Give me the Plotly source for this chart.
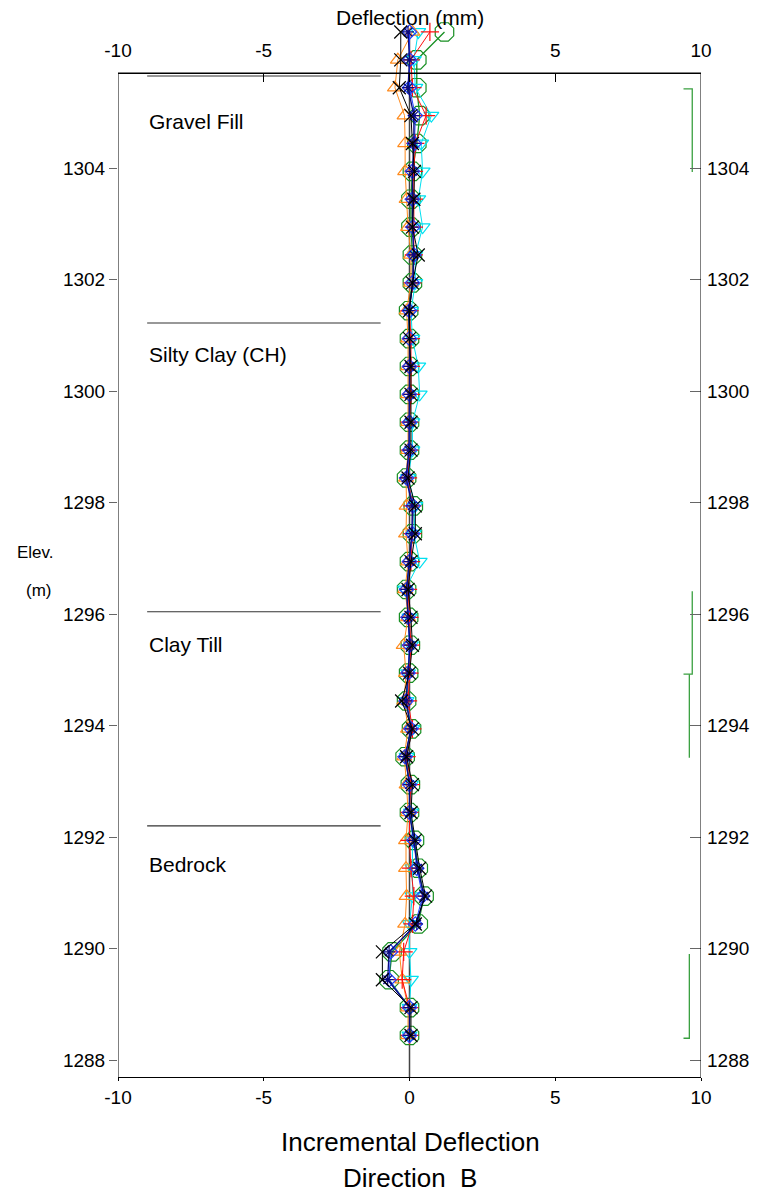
import plotly.graph_objects as go

# ---------------- data ----------------
elev = [1306.44, 1305.94, 1305.44, 1304.94, 1304.44, 1303.94, 1303.44, 1302.94, 1302.44,
        1301.94, 1301.44, 1300.94, 1300.44, 1299.94, 1299.44, 1298.94, 1298.44, 1297.94,
        1297.44, 1296.94, 1296.44, 1295.94, 1295.44, 1294.94, 1294.44, 1293.94, 1293.44,
        1292.94, 1292.44, 1291.94, 1291.44, 1290.94, 1290.44, 1289.94, 1289.44, 1288.94,
        1288.44]

green = [1.2, 0.25, 0.25, 0.35, 0.25, 0.1, 0.05, 0.05, 0.1, 0.1, -0.03, 0.0, 0.0, 0.0, 0.0, 0.0,
         -0.1, 0.13, 0.1, 0.0, -0.1, -0.03, 0.03, -0.03, -0.1, 0.07, -0.15, 0.03, 0.0, 0.17, 0.3,
         0.5, 0.3, -0.6, -0.7, 0.0, 0.0]
cyan = [0.3, 0.15, 0.2, 0.75, 0.4, 0.45, 0.3, 0.45, 0.2, 0.2, 0.05, 0.1, 0.3, 0.35, 0.1, 0.1,
        -0.05, 0.2, 0.15, 0.35, -0.15, 0.0, 0.05, -0.05, -0.1, 0.1, -0.1, 0.05, 0.05, 0.1, 0.1,
        0.1, 0.0, 0.0, 0.05, 0.0, 0.0]
orange = [0.1, -0.4, -0.5, -0.17, -0.15, -0.15, -0.1, -0.05, 0.05, 0.05, -0.1, -0.05, -0.05,
          -0.05, -0.05, -0.05, -0.12, -0.1, -0.12, -0.05, -0.15, -0.05, -0.2, -0.12, -0.18,
          -0.05, -0.18, -0.1, -0.05, -0.12, -0.12, -0.1, -0.15, -0.35, -0.25, -0.05, -0.05]
red = [0.7, 0.05, 0.1, 0.57, 0.2, 0.15, 0.15, 0.15, 0.15, 0.1, 0.0, 0.05, 0.05, 0.05, 0.0, 0.0,
       -0.05, 0.1, 0.1, 0.05, -0.05, 0.0, 0.05, 0.0, -0.05, 0.1, -0.1, 0.05, 0.0, 0.0, 0.05,
       0.15, 0.1, -0.2, -0.25, 0.0, 0.0]
blue = [0.0, 0.0, 0.0, 0.2, 0.17, 0.1, 0.1, 0.12, 0.15, 0.1, 0.0, 0.0, 0.0, 0.0, 0.0, 0.0,
        -0.1, 0.12, 0.1, 0.0, -0.1, -0.05, 0.0, -0.05, -0.12, 0.05, -0.15, 0.0, 0.0, 0.15, 0.25,
        0.45, 0.2, -0.65, -0.7, 0.0, 0.0]
navy = [-0.05, 0.0, -0.05, 0.15, 0.15, 0.1, 0.1, 0.1, 0.15, 0.12, -0.03, 0.0, 0.0, 0.0, 0.0,
        -0.02, -0.12, 0.1, 0.08, 0.0, -0.1, -0.05, 0.02, -0.05, -0.12, 0.05, -0.15, 0.0, 0.0,
        0.15, 0.28, 0.5, 0.25, -0.7, -0.75, 0.0, 0.0]
black = [-0.3, -0.3, -0.35, 0.05, 0.1, 0.17, 0.15, 0.1, 0.3, 0.1, 0.0, 0.0, 0.05, 0.05, 0.05,
         0.05, -0.05, 0.2, 0.2, 0.05, -0.05, 0.05, 0.1, 0.0, -0.27, 0.1, -0.1, 0.1, 0.05, 0.2,
         0.35, 0.55, 0.2, -0.93, -0.93, 0.05, 0.05]

x_ticks = [-10, -5, 0, 5, 10]
y_ticks = [1288, 1290, 1292, 1294, 1296, 1298, 1300, 1302, 1304]

layer_names = ["Gravel Fill", "Silty Clay (CH)", "Clay Till", "Bedrock"]
layer_tops = [1305.65, 1301.22, 1296.04, 1292.2]
layer_label_elev = [1304.84, 1300.65, 1295.46, 1291.5]

# zone brackets at right side: (x values, elevation values)
brackets = [
    ([9.4, 9.7, 9.7], [1305.42, 1305.42, 1303.93]),
    ([9.7, 9.7, 9.4], [1296.41, 1294.92, 1294.92]),
    ([9.6, 9.6], [1294.92, 1293.42]),
    ([9.6, 9.6, 9.4], [1289.9, 1288.39, 1288.39]),
]

# ---------------- figure ----------------
FONT = "Arial, Liberation Sans, sans-serif"
W, H = 779, 1196
ML, MR, MT, MB = 118, 78, 0, 119
plot_h = H - MT - MB
px_per_m = 55.75
y_bottom = 1288 - 17 / px_per_m
y_top = 1288 + 1060 / px_per_m
frame_top = 1288 + (1060 - 73) / px_per_m
top_axis_pos = (plot_h - 73) / plot_h

series = [
    ("green", green, "#178f22", "octagon-open", 20, 1.3),
    ("cyan", cyan, "#00e0f0", "triangle-down-open", 13, 1.0),
    ("orange", orange, "#ff8a1c", "triangle-up-open", 13, 1.0),
    ("red", red, "#ff1010", "cross-thin-open", 13, 1.0),
    ("blue", blue, "#2040ff", "diamond-open", 11, 1.0),
    ("navy", navy, "#0a0a80", "asterisk-open", 10, 1.3),
    ("black", black, "#000000", "x-thin-open", 13, 1.0),
]

fig = go.Figure()
for name, vals, col, sym, sz, lw in series:
    fig.add_trace(go.Scatter(
        x=vals, y=elev, mode="lines+markers", name=name,
        line=dict(color=col, width=lw),
        marker=dict(symbol=sym, size=sz, color=col, line=dict(color=col, width=1.2)),
        cliponaxis=False, showlegend=False, hoverinfo="skip",
    ))

for bx, by in brackets:
    fig.add_trace(go.Scatter(
        x=bx, y=by, xaxis="x2", yaxis="y2", mode="lines",
        line=dict(color="#3aa040", width=1.3), showlegend=False, hoverinfo="skip",
    ))

shapes = []
# zero reference line
shapes.append(dict(type="line", xref="x", yref="y", x0=0, x1=0, y0=y_bottom, y1=max(elev),
                   line=dict(color="#444", width=1.5), layer="below"))
# frame (left, right, top)
for x0, y0, x1, y1 in [(-10, y_bottom, -10, frame_top), (10, y_bottom, 10, frame_top),
                       (-10, frame_top, 10, frame_top)]:
    shapes.append(dict(type="line", xref="x", yref="y", x0=x0, x1=x1, y0=y0, y1=y1,
                       line=dict(color="#000", width=1)))
# layer boundary lines
for yt in layer_tops:
    shapes.append(dict(type="line", xref="x", yref="y", x0=-9.0, x1=-0.99, y0=yt, y1=yt,
                       line=dict(color="#333", width=1.2), layer="below"))

annotations = []
for nm, ye in zip(layer_names, layer_label_elev):
    annotations.append(dict(x=-9.0, y=ye, xref="x", yref="y", text=nm, showarrow=False,
                            xanchor="left", yanchor="middle",
                            font=dict(family=FONT, size=21, color="#000")))

def py(p):
    return (plot_h - p) / plot_h

def pxx(p):
    return (p - ML) / (W - ML - MR)

annotations += [
    dict(x=pxx(410), y=py(18), xref="paper", yref="paper", text="Deflection (mm)",
         showarrow=False, xanchor="center", yanchor="middle",
         font=dict(family=FONT, size=21, color="#000")),
    dict(x=pxx(410), y=py(1142), xref="paper", yref="paper", text="Incremental Deflection",
         showarrow=False, xanchor="center", yanchor="middle",
         font=dict(family=FONT, size=26, color="#000")),
    dict(x=pxx(410), y=py(1178), xref="paper", yref="paper", text="Direction&nbsp;&nbsp;B",
         showarrow=False, xanchor="center", yanchor="middle",
         font=dict(family=FONT, size=26, color="#000")),
    dict(x=pxx(35), y=py(553), xref="paper", yref="paper", text="Elev.",
         showarrow=False, xanchor="center", yanchor="middle",
         font=dict(family=FONT, size=17, color="#000")),
    dict(x=pxx(38), y=py(590), xref="paper", yref="paper", text="(m)",
         showarrow=False, xanchor="center", yanchor="middle",
         font=dict(family=FONT, size=17, color="#000")),
]

tick_font = dict(family=FONT, size=19, color="#000")

fig.update_layout(
    width=W, height=H,
    margin=dict(l=ML, r=MR, t=MT, b=MB, pad=0),
    paper_bgcolor="white", plot_bgcolor="white",
    shapes=shapes, annotations=annotations,
    xaxis=dict(range=[-10, 10], tickvals=x_ticks, ticktext=[str(v) for v in x_ticks],
               showgrid=False, zeroline=False, showline=True, linecolor="#000", linewidth=1,
               ticks="outside", ticklen=3, tickcolor="#000", tickfont=tick_font,
               anchor="y", fixedrange=True),
    xaxis2=dict(range=[-10, 10], tickvals=x_ticks,
                ticktext=[str(v) if v != 0 else "" for v in x_ticks],
                overlaying="x", side="top", anchor="free", position=top_axis_pos,
                showgrid=False, zeroline=False, showline=True, linecolor="#000", linewidth=1,
                ticks="inside", ticklen=8, tickcolor="#000", tickfont=tick_font,
                ticklabelstandoff=8),
    yaxis=dict(range=[y_bottom, y_top], tickvals=y_ticks, ticktext=[str(v) for v in y_ticks],
               showgrid=False, zeroline=False, showline=False,
               ticks="outside", ticklen=8, tickcolor="#666", tickfont=tick_font,
               anchor="x"),
    yaxis2=dict(range=[y_bottom, y_top], tickvals=y_ticks, ticktext=[str(v) for v in y_ticks],
                overlaying="y", side="right", anchor="x",
                showgrid=False, zeroline=False, showline=False,
                ticks="inside", ticklen=11, tickcolor="#666", tickfont=tick_font,
                ticklabelstandoff=5),
)

fig.write_html("out.html")
